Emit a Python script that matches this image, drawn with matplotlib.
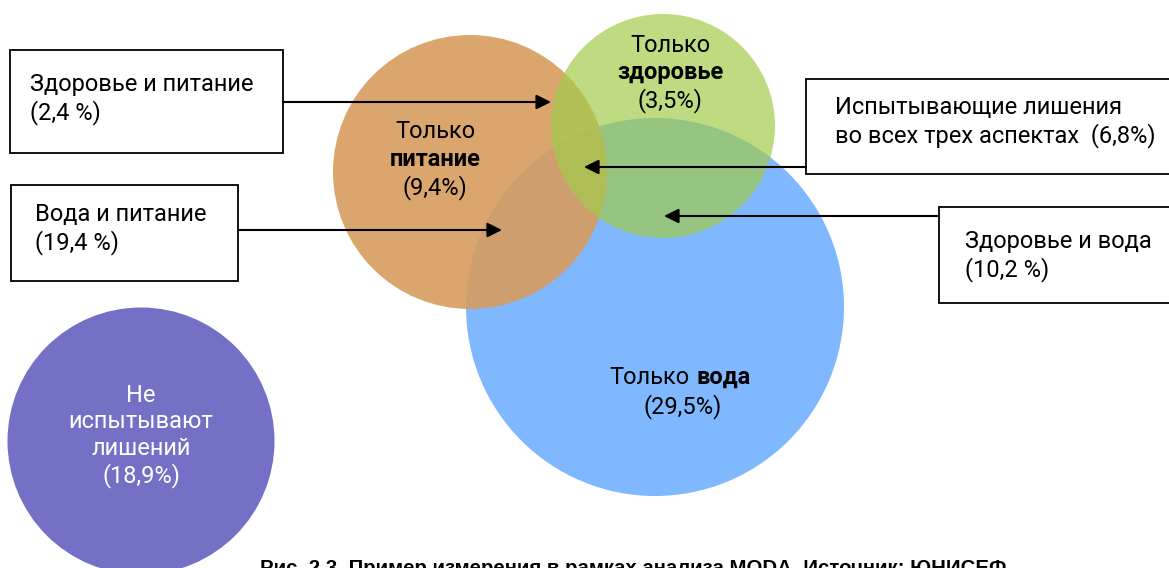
import matplotlib.pyplot as plt
from matplotlib.patches import Circle, Rectangle

plt.rcParams['font.family'] = ['Roboto', 'DejaVu Sans']

# Data: shares of children by deprivation group (%)
only_labels = ["питание", "здоровье", "вода"]
only_values = [9.4, 3.5, 29.5]
none_value = 18.9
pair_labels = ["Здоровье и питание", "Вода и питание", "Здоровье и вода"]
pair_values = [2.4, 19.4, 10.2]
all_three_value = 6.8
caption = "Рис. 2.3. Пример измерения в рамках анализа MODA. Источник: ЮНИСЕФ"


def pct(v, space=False):
    s = f"{v:.1f}".replace(".", ",")
    return f"({s} %)" if space else f"({s}%)"


W, H = 1169, 568
fig = plt.figure(figsize=(W / 100, H / 100), dpi=100)
ax = fig.add_axes([0, 0, 1, 1])
ax.set_xlim(0, W)
ax.set_ylim(H, 0)
ax.set_aspect('equal')
ax.axis('off')

fs = 17
ls = 1.2

# circles (water at bottom, nutrition, health on top)
ax.add_patch(Circle((655, 307), 189, color='#80B8FF', lw=0, zorder=1))
ax.add_patch(Circle((470, 172), 137, color='#D89C5E', alpha=0.9, lw=0, zorder=2))
ax.add_patch(Circle((663, 126), 112, color='#A1CC4A', alpha=0.69, lw=0, zorder=3))
ax.add_patch(Circle((141, 441), 133.5, color='#7370C5', lw=0, zorder=1))

# labels inside circles
ax.text(435, 131, "Только", ha='center', va='center', fontsize=fs, zorder=5)
ax.text(435, 160, only_labels[0], ha='center', va='center', fontsize=fs,
        fontweight='bold', zorder=5)
ax.text(435, 188, pct(only_values[0]), ha='center', va='center', fontsize=fs, zorder=5)

ax.text(670, 45, "Только", ha='center', va='center', fontsize=fs, zorder=5)
ax.text(670, 73, only_labels[1], ha='center', va='center', fontsize=fs,
        fontweight='bold', zorder=5)
ax.text(670, 101, pct(only_values[1]), ha='center', va='center', fontsize=fs, zorder=5)

ax.text(690, 377, "Только", ha='right', va='center', fontsize=fs, zorder=5)
ax.text(697, 377, only_labels[2], ha='left', va='center', fontsize=fs,
        fontweight='bold', zorder=5)
ax.text(683, 407, pct(only_values[2]), ha='center', va='center', fontsize=fs, zorder=5)

ax.text(141, 436, "Не\nиспытывают\nлишений\n" + pct(none_value), ha='center',
        va='center', fontsize=fs, color='white', linespacing=ls, zorder=5)

# callout boxes: (x0, y0, x1, y1), text pos, text, arrow y, arrow tip x
boxes = [
    ((10, 50, 283, 153), (30, 99), pair_labels[0] + "\n" + pct(pair_values[0], True), 102, 551),
    ((11, 185, 238, 281), (35, 229), pair_labels[1] + "\n" + pct(pair_values[1], True), 230, 502),
    ((806, 79, 1200, 174), (835, 122),
     "Испытывающие лишения\nво всех трех аспектах  " + pct(all_three_value), 167, 584),
    ((939, 207, 1200, 303), (965, 256), pair_labels[2] + "\n" + pct(pair_values[2], True), 216, 664),
]
for (x0, y0, x1, y1), (tx, ty), txt, ay, tip in boxes:
    ax.add_patch(Rectangle((x0, y0), x1 - x0, y1 - y0, facecolor='white',
                           edgecolor='black', lw=1.3, zorder=4, clip_on=False))
    ax.text(tx, ty, txt, ha='left', va='center', fontsize=fs, linespacing=ls, zorder=5)
    start = x1 if tip > x1 else x0
    ax.annotate("", xy=(tip, ay), xytext=(start, ay), zorder=6,
                arrowprops=dict(arrowstyle='-|>', color='black', lw=1.5,
                                mutation_scale=22, shrinkA=0, shrinkB=0))

ax.text(633, 559, caption, ha='center', va='top', fontsize=14.7,
        fontweight='bold', family=['Liberation Sans', 'DejaVu Sans'], zorder=5)

fig.savefig('out.png', dpi=100)
